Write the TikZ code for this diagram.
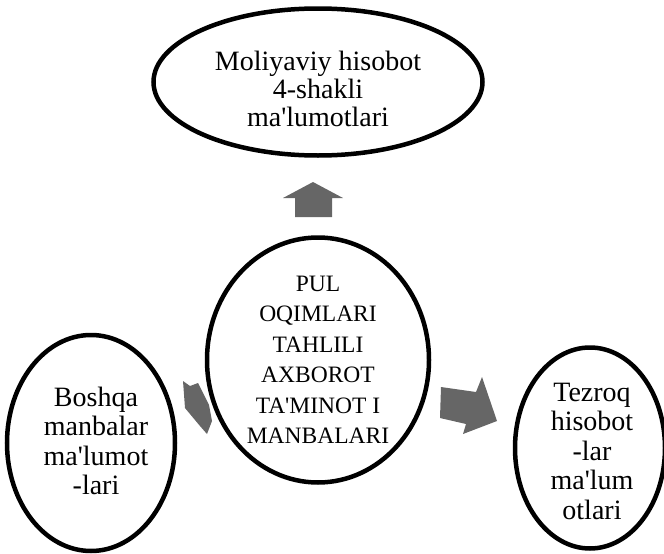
\documentclass[tikz,border=0pt]{standalone}
\usepackage{fontspec}
\setmainfont{Liberation Serif}[Ligatures=TeXOff]
\usepackage{tikz}
\usetikzlibrary{shapes.geometric,positioning}

\tikzset{
  oval/.style={ellipse, draw=black, line width=4.5pt, inner sep=0pt},
  ovaltext/.style={align=center, font=\fontsize{28}{29.5}\selectfont},
  blockarrow/.style={fill=black!60, draw=none}
}

\begin{document}
\begin{tikzpicture}[x=1pt, y=-1pt]
    \useasboundingbox (0,0) rectangle (664,554);
    % ovals
    \node[oval, minimum width=329pt, minimum height=147pt] (hisobot) at (318,82) {};
    \node[oval, minimum width=222pt, minimum height=245pt] (pul) at (318,360) {};
    \node[oval, minimum width=168pt, minimum height=216pt] (boshqa) at (91,443) {};
    \node[oval, minimum width=150pt, minimum height=201pt] (tezroq) at (590,448) {};
    % texts
    \node[ovaltext, font=\fontsize{28}{28}\selectfont] (hisobottxt) at ([yshift=-7pt]hisobot.center) {Moliyaviy hisobot\\4-shakli\\ma'lumotlari};
    \node[ovaltext, font=\fontsize{23.5}{30.5}\selectfont] (pultxt) at (pul.center) {PUL\\OQIMLARI\\TAHLILI\\AXBOROT\\TA'MINOT I\\MANBALARI};
    \node[ovaltext] (boshqatxt) at ([xshift=5pt,yshift=2pt]boshqa.center) {Boshqa\\manbalar\\ma'lumot\\-lari};
    \node[ovaltext, font=\fontsize{28}{29.5}\selectfont] (tezroqtxt) at ([xshift=2pt,yshift=-3pt]tezroq.center) {Tezroq\\hisobot\\-lar\\ma'lum\\otlari};
    % arrows
    \fill[blockarrow] (283,198) -- (313,182) -- (343,198) -- (332,198) -- (332,217) -- (295,217) -- (295,198) -- cycle;
    \fill[blockarrow] (183,381) -- (190,386) -- (198,383) -- (209,405) -- (212,421) -- (207,434) -- (200,426) -- (185,408) -- cycle;
    \fill[blockarrow] (441,387) -- (476,392) -- (482,377) -- (497,421) -- (463,434) -- (466,424) -- (440,418) -- cycle;
\end{tikzpicture}
\end{document}
